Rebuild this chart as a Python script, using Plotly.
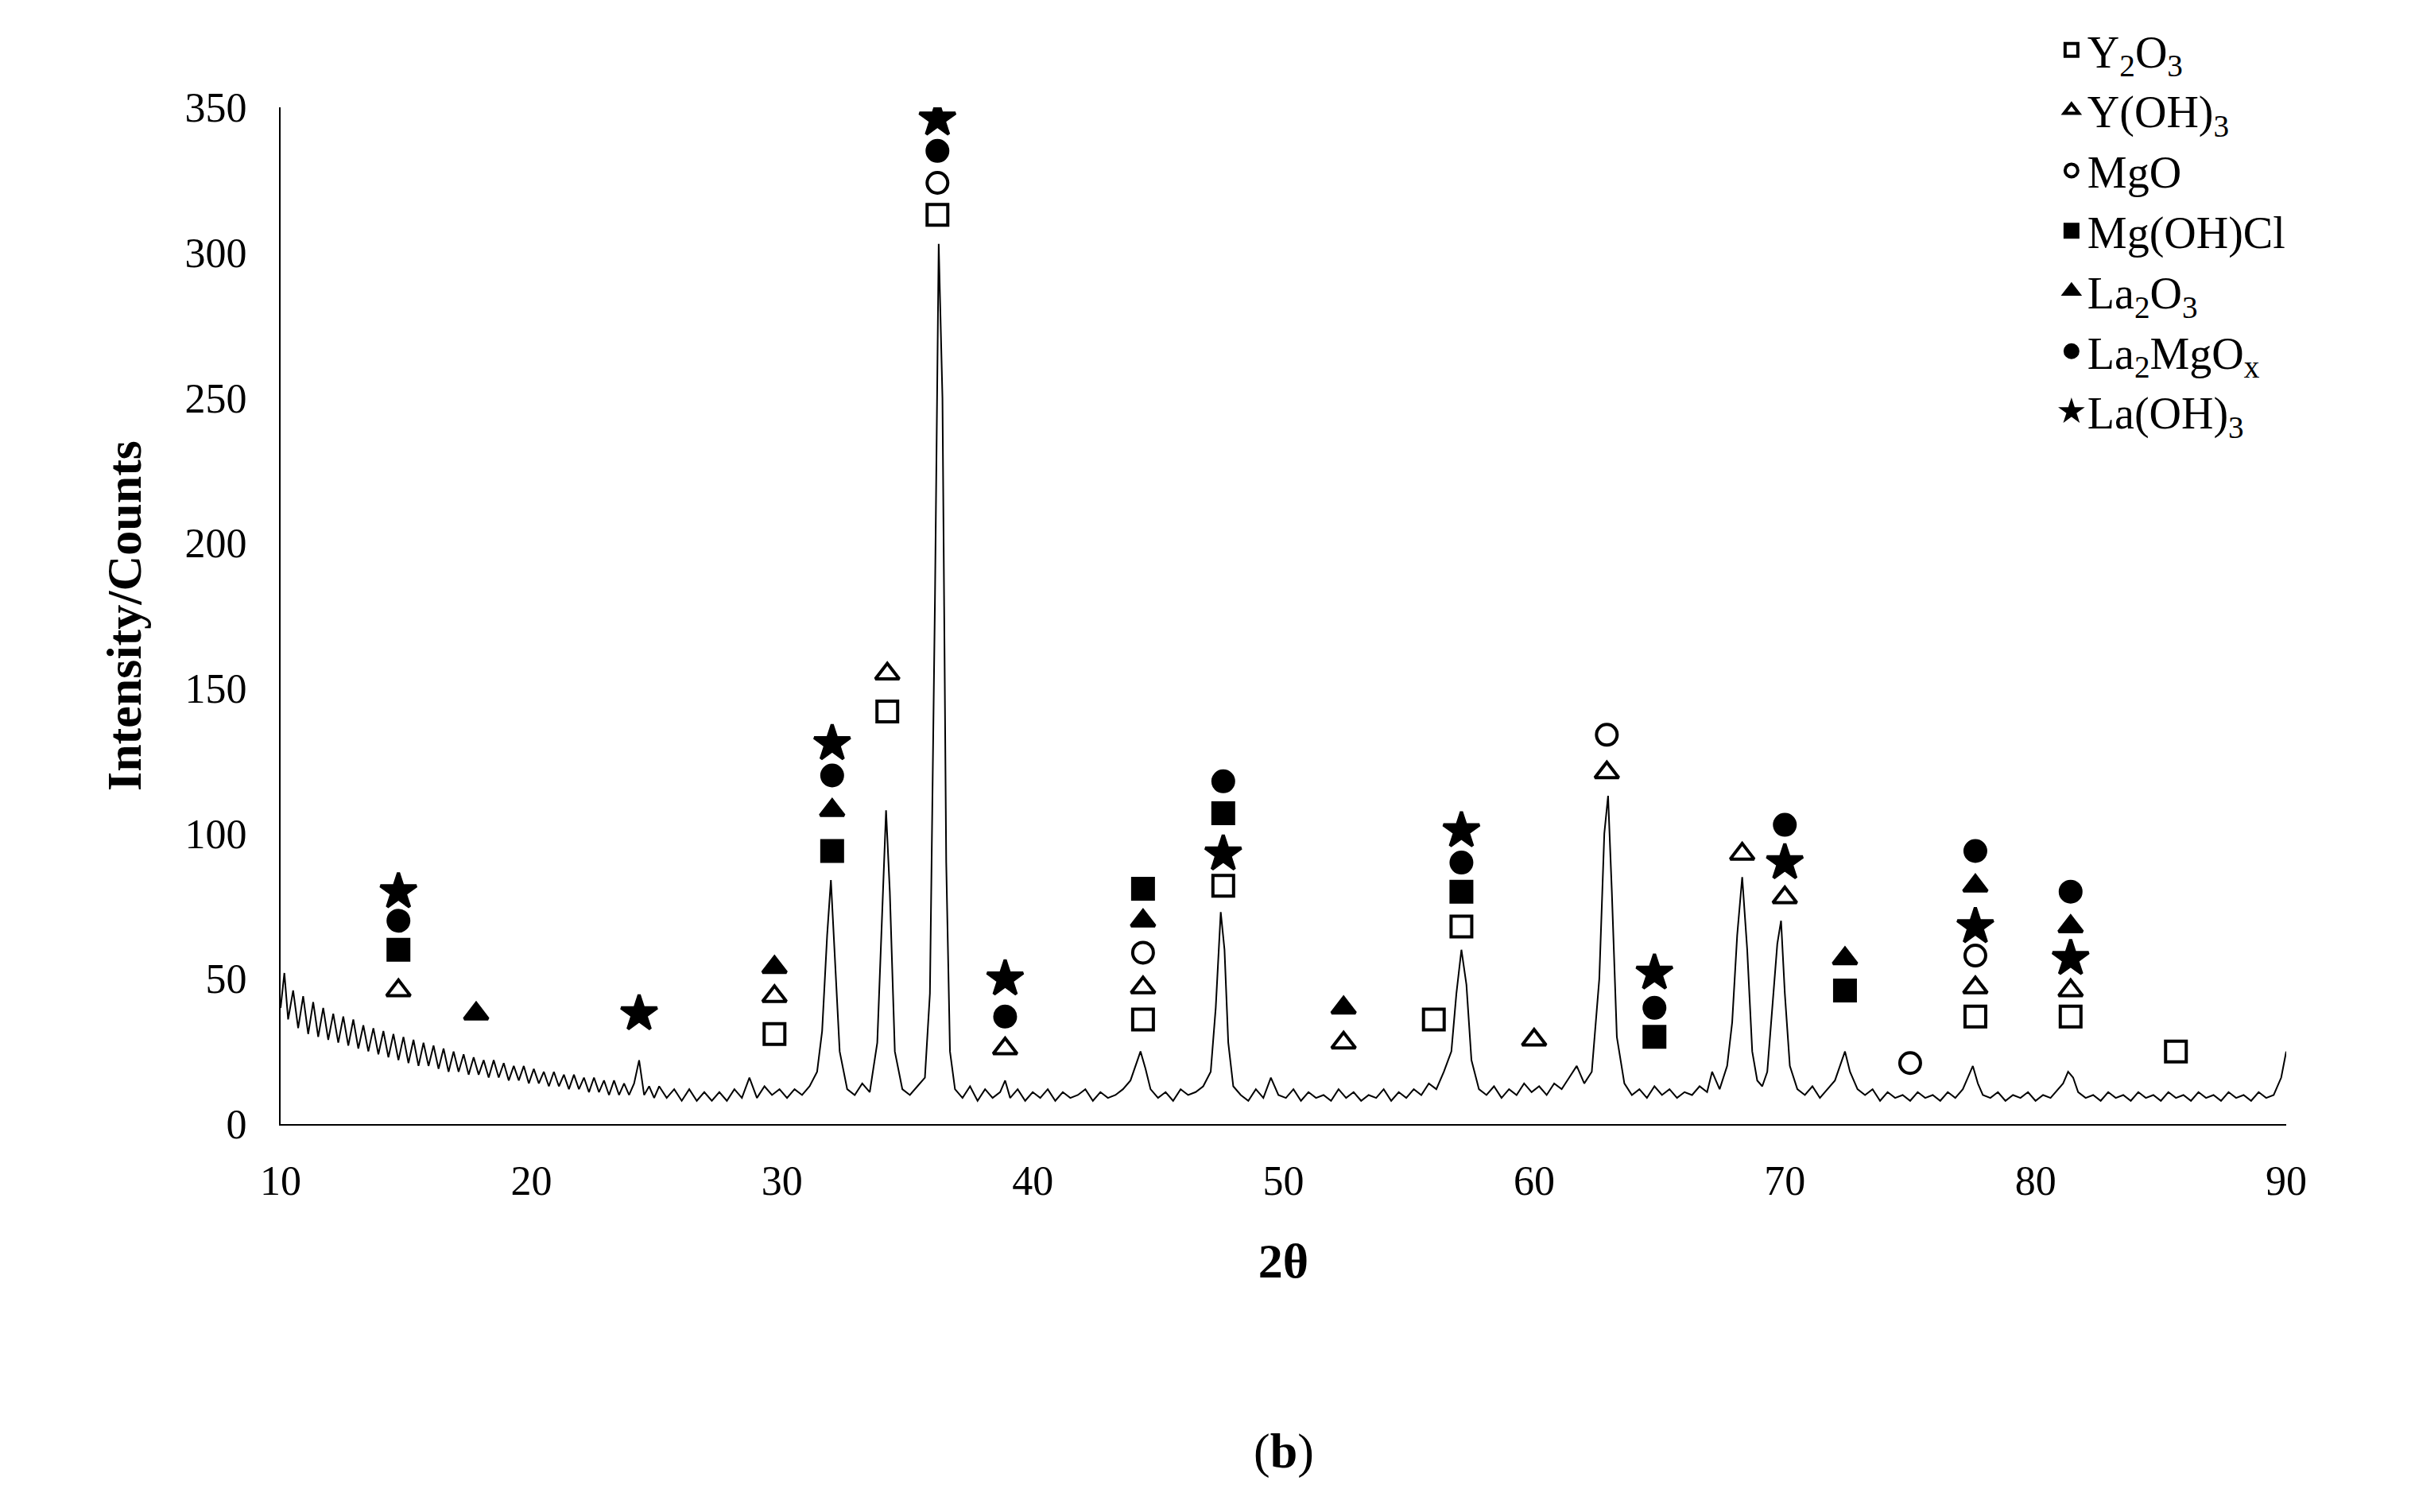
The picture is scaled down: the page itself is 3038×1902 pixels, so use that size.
import plotly.graph_objects as go

# XRD pattern (2theta, counts)
pattern_points = [
(10.0,40),(10.15,52),(10.3,36),(10.5,46),(10.7,33),(10.9,44),(11.1,31),(11.3,42),(11.5,30),(11.7,40),(11.9,29),(12.1,38),
(12.3,28),(12.5,37),(12.7,27),(12.9,36),(13.1,26),(13.3,34),(13.5,25),(13.7,33),(13.9,24),(14.1,32),(14.3,23),(14.5,31),
(14.7,22),(14.9,30),(15.1,21),(15.3,29),(15.5,20),(15.7,28),(15.9,20),(16.1,27),(16.3,19),(16.5,26),(16.7,18),(16.9,25),
(17.1,18),(17.3,24),(17.5,17),(17.7,23),(17.9,17),(18.1,22),(18.3,16),(18.5,22),(18.7,16),(18.9,21),(19.1,15),(19.3,20),
(19.5,15),(19.7,20),(19.9,14),(20.1,19),(20.3,14),(20.5,18),(20.7,13),(20.9,18),(21.1,13),(21.3,17),(21.5,12),(21.7,17),
(21.9,12),(22.1,16),(22.3,11),(22.5,16),(22.7,11),(22.9,15),(23.1,10),(23.3,15),(23.5,10),(23.7,14),(23.9,10),(24.1,14),
(24.3,22),(24.5,10),(24.7,13),(24.9,9),(25.1,13),(25.4,9),(25.7,12),(26.0,8),(26.3,12),(26.6,8),(26.9,11),(27.2,8),
(27.5,11),(27.8,8),(28.1,12),(28.4,9),(28.7,16),(29.0,9),(29.3,13),(29.6,10),(29.9,12),(30.2,9),(30.5,12),(30.8,10),
(31.1,13),(31.4,18),(31.6,32),(31.8,65),(31.95,84),(32.1,60),(32.3,25),(32.6,12),(32.9,10),(33.2,14),(33.5,11),(33.8,28),
(34.0,75),(34.15,108),(34.3,80),(34.5,25),(34.8,12),(35.1,10),(35.4,13),(35.7,16),(35.9,45),(36.1,180),(36.25,303),
(36.4,250),(36.55,90),(36.7,25),(36.9,12),(37.2,9),(37.5,13),(37.8,8),(38.1,12),(38.4,9),(38.7,11),(38.9,15),(39.1,9),
(39.4,12),(39.7,8),(40.0,11),(40.3,9),(40.6,12),(40.9,8),(41.2,11),(41.5,9),(41.8,10),(42.1,12),(42.4,8),(42.7,11),
(43.0,9),(43.3,10),(43.6,12),(43.9,15),(44.1,20),(44.3,25),(44.5,19),(44.7,12),(45.0,9),(45.3,11),(45.6,8),(45.9,12),
(46.2,10),(46.5,11),(46.8,13),(47.1,18),(47.3,40),(47.5,73),(47.65,60),(47.8,28),(48.0,13),(48.3,10),(48.6,8),(48.9,12),
(49.2,9),(49.5,16),(49.8,10),(50.1,9),(50.4,12),(50.7,8),(51.0,11),(51.3,9),(51.6,10),(51.9,8),(52.2,12),(52.5,9),
(52.8,11),(53.1,8),(53.4,10),(53.7,9),(54.0,12),(54.3,8),(54.6,11),(54.9,9),(55.2,12),(55.5,10),(55.8,14),(56.1,12),
(56.4,18),(56.7,25),(56.9,45),(57.1,60),(57.3,48),(57.5,22),(57.8,12),(58.1,10),(58.4,13),(58.7,9),(59.0,12),(59.3,10),
(59.6,14),(59.9,11),(60.2,13),(60.5,10),(60.8,14),(61.1,12),(61.4,16),(61.7,20),(62.0,14),(62.3,18),(62.6,50),(62.8,100),
(62.95,113),(63.1,80),(63.3,30),(63.6,14),(63.9,10),(64.2,12),(64.5,9),(64.8,13),(65.1,10),(65.4,12),(65.7,9),(66.0,11),
(66.3,10),(66.6,13),(66.9,11),(67.1,18),(67.4,12),(67.7,20),(67.9,35),(68.1,65),(68.3,85),(68.5,60),(68.7,25),(68.9,15),
(69.1,13),(69.3,18),(69.5,40),(69.7,62),(69.85,70),(70.0,45),(70.2,20),(70.5,12),(70.8,10),(71.1,13),(71.4,9),(71.7,12),
(72.0,15),(72.2,20),(72.4,25),(72.6,18),(72.9,12),(73.2,10),(73.5,12),(73.8,8),(74.1,11),(74.4,9),(74.7,10),(75.0,8),
(75.3,11),(75.6,9),(75.9,10),(76.2,8),(76.5,11),(76.8,9),(77.1,12),(77.3,16),(77.5,20),(77.7,14),(77.9,10),(78.2,9),
(78.5,11),(78.8,8),(79.1,10),(79.4,9),(79.7,11),(80.0,8),(80.3,10),(80.6,9),(80.9,12),(81.1,14),(81.3,18),(81.5,16),
(81.7,11),(82.0,9),(82.3,10),(82.6,8),(82.9,11),(83.2,9),(83.5,10),(83.8,8),(84.1,11),(84.4,9),(84.7,10),(85.0,8),
(85.3,11),(85.6,9),(85.9,10),(86.2,8),(86.5,11),(86.8,9),(87.1,10),(87.4,8),(87.7,11),(88.0,9),(88.3,10),(88.6,8),
(88.9,11),(89.2,9),(89.5,10),(89.8,16),(90.0,25),
]
two_theta = [p[0] for p in pattern_points]
intensity = [p[1] for p in pattern_points]

# Phase markers: symbol, 2theta positions, y positions
phases = {
    "Y<sub>2</sub>O<sub>3</sub>": ("square-open", [29.7,34.2,36.2,44.4,47.6,56.0,57.1,77.6,81.4,85.6], [31,142,313,36,82,36,68,37,37,25]),
    "Y(OH)<sub>3</sub>": ("triangle-up-open", [14.7,29.7,34.2,38.9,44.4,52.4,60.0,62.9,68.3,70.0,77.6,81.4], [46,44,155,26,47,28,29,121,93,78,47,46]),
    "MgO": ("circle-open", [36.2,44.4,62.9,75.0,77.6], [324,59,134,21,58]),
    "Mg(OH)Cl": ("square", [14.7,32.0,44.4,47.6,57.1,64.8,72.4], [60,94,81,107,80,30,46]),
    "La<sub>2</sub>O<sub>3</sub>": ("triangle-up", [17.8,29.7,32.0,44.4,52.4,72.4,77.6,81.4], [38,54,108,70,40,57,82,68]),
    "La<sub>2</sub>MgO<sub>x</sub>": ("circle", [14.7,32.0,36.2,38.9,47.6,57.1,64.8,70.0,77.6,81.4], [70,120,335,37,118,90,40,103,94,80]),
    "La(OH)<sub>3</sub>": ("star", [14.7,24.3,32.0,36.2,38.9,47.6,57.1,64.8,70.0,77.6,81.4], [80,38,131,346,50,93,101,52,90,68,57]),
}

fig = go.Figure()
fig.add_trace(go.Scatter(x=two_theta, y=intensity, mode="lines",
                         line=dict(color="black", width=2), showlegend=False))
for name, (sym, xs, ys) in phases.items():
    fig.add_trace(go.Scatter(x=xs, y=ys, mode="markers", name=name,
                             marker=dict(symbol=sym, size=26 if "star" not in sym else 34, color="black",
                                         line=dict(color="black", width=4))))

font = "Liberation Serif"
fig.update_layout(
    width=3038, height=1902, plot_bgcolor="white", paper_bgcolor="white",
    margin=dict(l=345, r=170, t=119, b=496),
    font=dict(family=font, size=52, color="black"),
    xaxis=dict(range=[10, 90], dtick=10, showline=True, linecolor="black", linewidth=2,
               showgrid=False, zeroline=False, ticks="", ticklabelstandoff=25,
               title=dict(text="<b>2θ</b>", font=dict(size=62), standoff=50)),
    yaxis=dict(range=[0, 350], dtick=50, showline=True, linecolor="black", linewidth=2,
               showgrid=False, zeroline=False, ticks="", ticklabelstandoff=30,
               title=dict(text="<b>Intensity/Counts</b>", font=dict(size=62), standoff=35)),
    legend=dict(x=0.885, y=1.09, xanchor="left", yanchor="top", bgcolor="rgba(0,0,0,0)",
                font=dict(size=56), itemsizing="trace", itemwidth=30, tracegroupgap=4),
    annotations=[dict(text="(<b>b</b>)", x=0.5, y=-0.35, xref="paper", yref="paper",
                      showarrow=False, font=dict(size=62))],
)
fig.write_html("out.html")
